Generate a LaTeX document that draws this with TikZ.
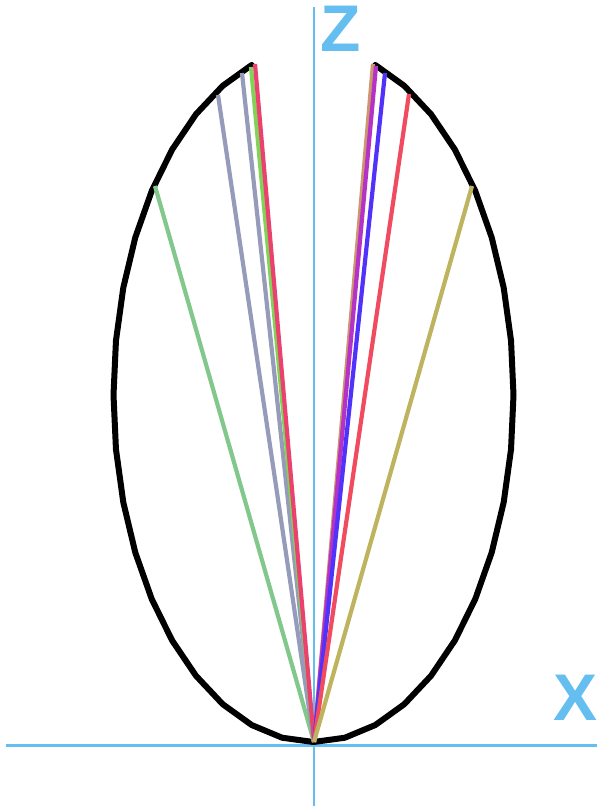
\documentclass[tikz,border=0pt]{standalone}
\usepackage{fontspec}
\setmainfont{Liberation Sans}
\begin{document}
\begin{tikzpicture}[x=1pt,y=-1pt,
  axis/.style={draw=axisblue,line width=2.2pt},
  ray/.style={line width=4.2pt},
  lbl/.style={text=axisblue,font=\bfseries\fontsize{66}{66}\selectfont,inner sep=0pt}]
\definecolor{axisblue}{RGB}{100,190,240}
\definecolor{cLgreen}{RGB}{130,200,140}
\definecolor{cGray}{RGB}{150,155,185}
\definecolor{cGreen}{RGB}{130,210,90}
\definecolor{cPink}{RGB}{235,65,110}
\definecolor{cTan}{RGB}{205,150,110}
\definecolor{cMag}{RGB}{180,50,200}
\definecolor{cBlue}{RGB}{80,50,250}
\definecolor{cRed}{RGB}{240,75,95}
\definecolor{cOlive}{RGB}{190,180,95}
\useasboundingbox (0,0) rectangle (599,807);
% axes
\coordinate (xl) at (6,745.5);
\coordinate (xr) at (597,745.5);
\coordinate (zb) at (314,806);
\coordinate (zt) at (314,7);
\draw[axis] (xl) -- (xr);
\draw[axis] (zb) -- (zt);
\node[lbl] (zlab) at (341,29) {Z};
\node[lbl] (xlab) at (576,698) {X};
% curve
\draw[line width=6pt,line join=round,line cap=round]
  plot[domain=108:432,samples=37] ({313.5+200*cos(\x)},{395-347*sin(\x)});
% rays
\coordinate (O) at (314,742);
\coordinate (p1) at (155,186);
\coordinate (p2) at (218,95);
\coordinate (p3) at (242,73);
\coordinate (p4) at (251,67);
\coordinate (p5) at (255,64);
\coordinate (q1) at (373,64);
\coordinate (q2) at (376,66);
\coordinate (q3) at (385,73);
\coordinate (q4) at (409,94);
\coordinate (q5) at (472,186);
\draw[ray,cLgreen] (O) -- (p1);
\draw[ray,cGray] (O) -- (p2);
\draw[ray,cGray] (O) -- (p3);
\draw[ray,cGreen] (O) -- (p4);
\draw[ray,cPink] (O) -- (p5);
\draw[ray,cTan] (O) -- (q1);
\draw[ray,cMag] (O) -- (q2);
\draw[ray,cBlue] (O) -- (q3);
\draw[ray,cRed] (O) -- (q4);
\draw[ray,cOlive] (O) -- (q5);
\end{tikzpicture}
\end{document}
